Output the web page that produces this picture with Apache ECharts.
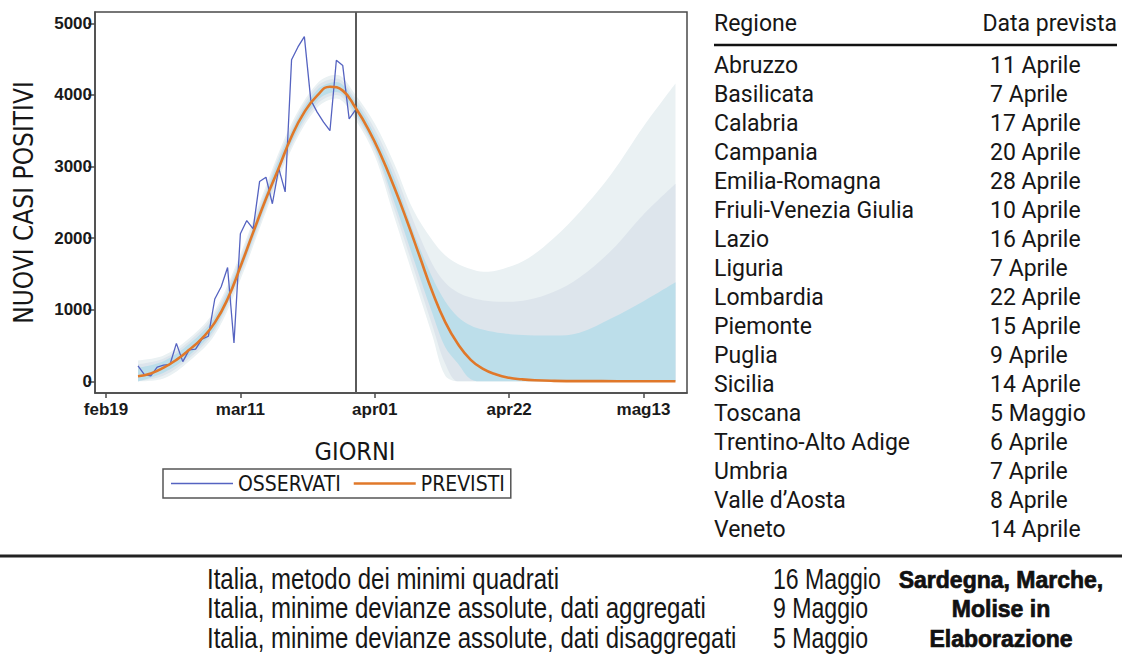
<!DOCTYPE html>
<html><head><meta charset="utf-8">
<script src="https://cdn.jsdelivr.net/npm/echarts@6/dist/echarts.min.js"></script>
<style>html,body{margin:0;padding:0;background:#fff}#c{width:1122px;height:658px}</style>
</head><body><div id="c"></div>
<script>
// ---- axis ticks (days since 19 Feb) ----
const tickDays = [0, 21, 42, 63, 84];
const tickLabels = ['feb19', 'mar11', 'apr01', 'apr22', 'mag13'];
const yTicks = [0, 1000, 2000, 3000, 4000, 5000];

// ---- observed daily values, from 24 Feb (day 5) to 29 Mar (day 39) ----
const observedStartDay = 5;
const observed = [215, 95, 75, 200, 225, 235, 530, 275, 440, 450,
  590, 630, 1150, 1320, 1590, 535, 2060, 2245, 2130, 2790,
  2850, 2480, 2975, 2645, 4490, 4670, 4815, 3930, 3760, 3620,
  3500, 4485, 4410, 3665, 3790];

// ---- fitted / forecast curve ----
const fitDays = [5, 7, 9, 11, 13, 15, 17, 19, 21, 23, 25, 27, 29, 31, 33, 35, 37, 39, 41, 43,
  45, 47, 49, 51, 53, 55, 57, 59, 61, 63, 65, 67, 70, 75, 80, 85, 89];
const fitValues = [70, 110, 190, 300, 440, 600, 820, 1150, 1600, 2080, 2550, 2980, 3420, 3760, 3990, 4115, 4060, 3820, 3520, 3150,
  2720, 2250, 1750, 1250, 830, 520, 300, 170, 95, 50, 28, 15, 7, 3, 2, 1, 1];

// ---- uncertainty bands ----
const bandDays = [5, 9, 13, 17, 21, 25, 29, 33, 36, 39, 42, 45, 48, 51, 53, 55, 57, 59, 62, 66, 70, 74, 79, 84, 89];
const outerLow  = [0, 40, 280, 650, 1420, 2370, 3240, 3820, 3950, 3650, 3150, 2310, 1470, 640, 80, 0, 0, 0, 0, 0, 0, 0, 0, 0, 0];
const outerHigh = [290, 360, 600, 990, 1780, 2730, 3600, 4160, 4280, 4000, 3600, 3050, 2400, 1970, 1760, 1640, 1570, 1530, 1570, 1720, 2000, 2360, 2900, 3560, 4160];
const midLow    = [0, 80, 320, 700, 1480, 2420, 3290, 3870, 4000, 3700, 3220, 2420, 1600, 780, 250, 0, 0, 0, 0, 0, 0, 0, 0, 0, 0];
const midHigh   = [240, 320, 560, 950, 1730, 2680, 3550, 4120, 4230, 3950, 3520, 2950, 2250, 1640, 1380, 1240, 1170, 1130, 1110, 1140, 1250, 1450, 1830, 2330, 2760];
const innerLow  = [0, 120, 360, 740, 1530, 2470, 3340, 3920, 4040, 3740, 3260, 2520, 1730, 950, 480, 250, 30, 0, 0, 0, 0, 0, 0, 0, 0];
const innerHigh = [190, 280, 520, 900, 1680, 2630, 3500, 4070, 4180, 3900, 3440, 2850, 2100, 1450, 1120, 900, 780, 720, 670, 645, 640, 680, 880, 1120, 1385];

const forecastStartDay = 39;

// ---- table ----
const tableHeader = ['Regione', 'Data prevista'];
const regions = ['Abruzzo', 'Basilicata', 'Calabria', 'Campania', 'Emilia-Romagna', 'Friuli-Venezia Giulia', 'Lazio', 'Liguria', 'Lombardia', 'Piemonte', 'Puglia', 'Sicilia', 'Toscana', 'Trentino-Alto Adige', 'Umbria', "Valle d\u2019Aosta", 'Veneto'];
const regionDates = ['11 Aprile', '7 Aprile', '17 Aprile', '20 Aprile', '28 Aprile', '10 Aprile', '16 Aprile', '7 Aprile', '22 Aprile', '15 Aprile', '9 Aprile', '14 Aprile', '5 Maggio', '6 Aprile', '7 Aprile', '8 Aprile', '14 Aprile'];
const italyMethods = ['Italia, metodo dei minimi quadrati', 'Italia, minime devianze assolute, dati aggregati', 'Italia, minime devianze assolute, dati disaggregati'];
const italyDates = ['16 Maggio', '9 Maggio', '5 Maggio'];
const noteLines = ['Sardegna, Marche,', 'Molise in', 'Elaborazione'];

const NARROW = "'DejaVu Sans Condensed', 'Liberation Sans Narrow', sans-serif";
const TABLEF = "Roboto, 'Liberation Sans', sans-serif";
const ink = '#161616';

// band drawn as a stack: lower bound (invisible) + width (filled)
function bandSeries(name, low, high, color) {
  const common = { type: 'line', stack: name, symbol: 'none', silent: true, z: 2,
    smooth: 0.35, encode: { x: 1, y: 0 },
    lineStyle: { width: 0, opacity: 0 } };
  return [
    Object.assign({ name: name + 'L', data: bandDays.map((d, i) => [low[i], d]) }, common),
    Object.assign({ name: name + 'H', areaStyle: { color: color, opacity: 1 },
      data: bandDays.map((d, i) => [high[i] - low[i], d]) }, common)
  ];
}

const graphics = [];
graphics.push({ type: 'text', x: 714, y: 23, style: { text: tableHeader[0], font: '23px ' + TABLEF, fill: ink, align: 'left', verticalAlign: 'middle' } });
graphics.push({ type: 'text', x: 1117, y: 23, style: { text: tableHeader[1], font: '23px ' + TABLEF, fill: ink, align: 'right', verticalAlign: 'middle' } });
graphics.push({ type: 'line', shape: { x1: 714, y1: 45, x2: 1117, y2: 45 }, style: { stroke: '#111', lineWidth: 2.5 } });
regions.forEach((r, i) => {
  const y = 65 + 29.06 * i;
  graphics.push({ type: 'text', x: 714, y: y, style: { text: r, font: '23px ' + TABLEF, fill: ink, align: 'left', verticalAlign: 'middle' } });
  graphics.push({ type: 'text', x: 990, y: y, style: { text: regionDates[i], font: '23px ' + TABLEF, fill: ink, align: 'left', verticalAlign: 'middle' } });
});
graphics.push({ type: 'line', shape: { x1: 0, y1: 556, x2: 1122, y2: 556 }, style: { stroke: '#222', lineWidth: 3 } });
const rowY = [579, 608, 638];
italyMethods.forEach((t, i) => {
  const y = rowY[i];
  graphics.push({ type: 'text', x: 207, y: y, scaleX: 0.8, style: { text: t, font: '30px "Liberation Sans", Arial, sans-serif', fill: ink, align: 'left', verticalAlign: 'middle' } });
  graphics.push({ type: 'text', x: 773, y: y, scaleX: 0.77, style: { text: italyDates[i], font: '30px "Liberation Sans", Arial, sans-serif', fill: ink, align: 'left', verticalAlign: 'middle' } });
  graphics.push({ type: 'text', x: 1001, y: y + 1, style: { text: noteLines[i], font: 'bold 23px "Liberation Sans", Arial, sans-serif', fill: '#111', stroke: '#111', lineWidth: 0.7, align: 'center', verticalAlign: 'middle' } });
});

const chart = echarts.init(document.getElementById('c'), null, { renderer: 'svg' });
chart.setOption({
  animation: false,
  backgroundColor: '#ffffff',
  grid: { left: 95, top: 12, width: 592, height: 381, show: true, borderColor: '#4a4a4a', borderWidth: 1.5, backgroundColor: 'transparent' },
  legend: {
    data: [
      { name: 'OSSERVATI', icon: 'path://M0,0H62V1.5H0Z' },
      { name: 'PREVISTI', icon: 'path://M0,0H62V2.6H0Z' }
    ],
    left: 163, top: 469,
    itemWidth: 62, itemHeight: 14, itemGap: 13,
    padding: [4, 6, 4, 8],
    borderColor: '#555', borderWidth: 1.5,
    textStyle: { fontFamily: NARROW, fontSize: 21, color: ink }
  },
  xAxis: {
    type: 'value', min: -1.72, max: 90.8,
    name: 'GIORNI', nameLocation: 'middle', nameGap: 46,
    nameTextStyle: { fontFamily: NARROW, fontSize: 25, color: ink, padding: [0, 72, 0, 0] },
    axisLine: { show: true, onZero: false, lineStyle: { color: '#4a4a4a', width: 1.5 } },
    axisTick: { show: true, customValues: tickDays, length: 5, lineStyle: { color: '#4a4a4a', width: 1.5 } },
    axisLabel: { customValues: tickDays, margin: 8, formatter: v => tickLabels[tickDays.indexOf(v)] || '',
      fontFamily: "'Liberation Sans', Arial, sans-serif", fontWeight: 'bold', fontSize: 17, color: '#1a1a1a' },
    splitLine: { show: false }
  },
  yAxis: {
    type: 'value', min: -163, max: 5158,
    name: 'NUOVI CASI POSITIVI', nameLocation: 'middle', nameGap: 58,
    nameTextStyle: { fontFamily: NARROW, fontSize: 26, color: ink },
    axisLine: { show: true, onZero: false, lineStyle: { color: '#4a4a4a', width: 1.5 } },
    axisTick: { show: true, customValues: yTicks, length: 7, lineStyle: { color: '#4a4a4a', width: 1.5 } },
    axisLabel: { customValues: yTicks, margin: 3, formatter: v => String(v),
      fontFamily: "'Liberation Sans', Arial, sans-serif", fontWeight: 'bold', fontSize: 17, color: '#1a1a1a' },
    splitLine: { show: false }
  },
  graphic: graphics,
  series: [
    { name: 'vline', type: 'line', data: [], z: 1, silent: true,
      markLine: { silent: true, symbol: 'none', label: { show: false },
        lineStyle: { color: '#5a5a5a', width: 2, type: 'solid' },
        data: [{ xAxis: forecastStartDay }] } },
    ...bandSeries('outer', outerLow, outerHigh, '#eaf1f3'),
    ...bandSeries('mid', midLow, midHigh, '#dde5ec'),
    ...bandSeries('inner', innerLow, innerHigh, '#bcdeea'),
    { name: 'OSSERVATI', type: 'line', symbol: 'none', z: 4,
      color: '#5563c1',
      lineStyle: { color: '#5563c1', width: 1.3 },
      data: observed.map((v, i) => [observedStartDay + i, v]) },
    { name: 'PREVISTI', type: 'line', symbol: 'none', z: 5, smooth: 0.5,
      color: '#e0782a',
      lineStyle: { color: '#e0782a', width: 2.6 },
      data: fitDays.map((d, i) => [d, fitValues[i]]) }
  ]
});
</script>
</body></html>
